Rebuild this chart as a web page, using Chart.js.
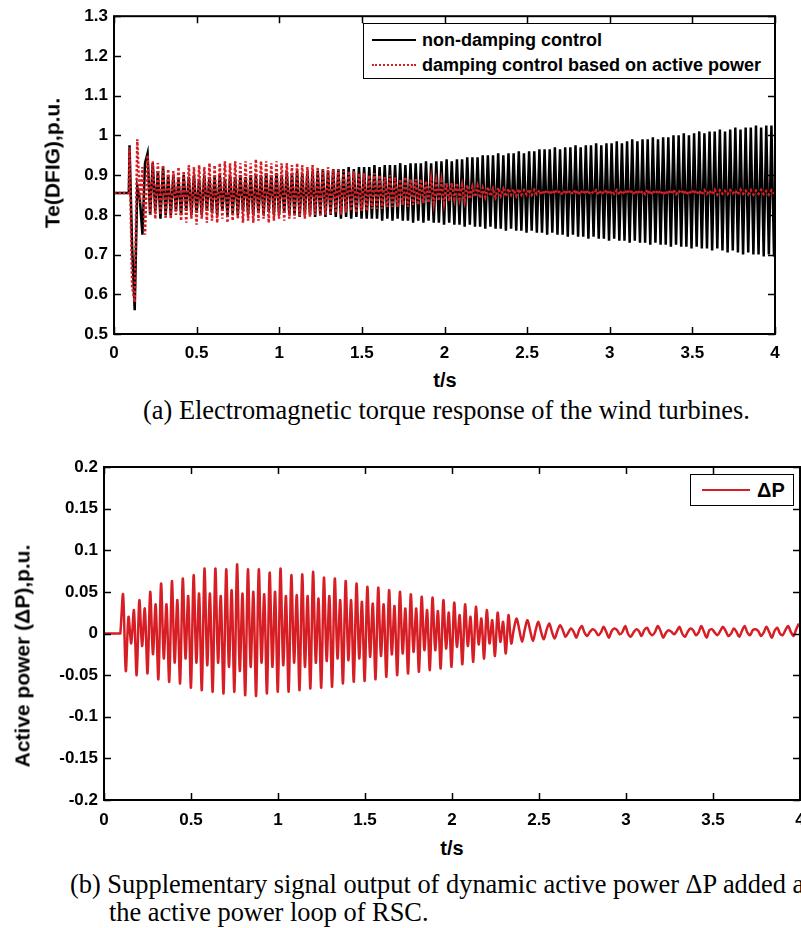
<!DOCTYPE html>
<html>
<head>
<meta charset="utf-8">
<script src="https://cdn.jsdelivr.net/npm/chart.js"></script>
<style>
  body { margin: 0; width: 801px; height: 928px; overflow: hidden; position: relative; background: #fff; }
  canvas { position: absolute; left: 0; }
  .sans { font-family: "Liberation Sans", Arial, sans-serif; font-weight: bold; color: #000; position: absolute; white-space: nowrap; }
  .serif { font-family: "Liberation Serif", "Times New Roman", serif; color: #000; position: absolute; white-space: nowrap; font-size: 26.4px; line-height: 1; }
  .ytitle { transform: translate(-50%, -50%) rotate(-90deg); font-size: 21px; line-height: 1; }
  .xtitle { transform: translate(-50%, -50%); font-size: 20px; line-height: 1; }
  .legend { position: absolute; border: 1.5px solid #000; background: #fff; box-sizing: border-box; }
  .legend .row { position: absolute; font-family: "Liberation Sans", Arial, sans-serif; font-weight: bold; white-space: nowrap; line-height: 1; }
  .legend .sample { position: absolute; height: 0; }
</style>
</head>
<body>
<canvas id="chartA" width="801" height="362" style="top:0"></canvas>
<canvas id="chartB" width="820" height="390" style="top:440px"></canvas>

<div class="sans ytitle" style="left:52px; top:163px;">Te(DFIG),p.u.</div>
<div class="sans xtitle" style="left:445px; top:380px;">t/s</div>
<div class="serif" style="left:143px; top:397px;">(a) Electromagnetic torque response of the wind turbines.</div>

<div class="legend" style="left:363px; top:23px; width:412px; height:56px;">
  <div class="sample" style="left:8px; top:15px; width:44px; border-top:2px solid #000;"></div>
  <div class="row" style="left:58px; top:7px; font-size:18px;">non-damping control</div>
  <div class="sample" style="left:8px; top:40px; width:44px; border-top:2px dotted #d71e25;"></div>
  <div class="row" style="left:58px; top:32px; font-size:18px;">damping control based on active power</div>
</div>

<div class="sans ytitle" style="left:22px; top:656px;">Active power (ΔP),p.u.</div>
<div class="sans xtitle" style="left:452px; top:848px;">t/s</div>
<div class="legend" style="left:690px; top:474px; width:104px; height:32px;">
  <div class="sample" style="left:11px; top:14px; width:48px; border-top:2px solid #d71e25;"></div>
  <div class="row" style="left:66px; top:5px; font-size:20px;">ΔP</div>
</div>
<div class="serif" style="left:70px; top:871px;">(b) Supplementary signal output of dynamic active power ΔP added at</div>
<div class="serif" style="left:109px; top:899px;">the active power loop of RSC.</div>

<script>
// sampling of the traces (one value every half cycle)
const faultTime = 0.09;
const sampleStart = 0.094;
const sampleStep = 0.0156;

// (a) tick values
const xTicksA = [0, 0.5, 1, 1.5, 2, 2.5, 3, 3.5, 4];
const yTicksA = [0.5, 0.6, 0.7, 0.8, 0.9, 1.0, 1.1, 1.2, 1.3];

// (b) tick values
const xTicksB = [0, 0.5, 1, 1.5, 2, 2.5, 3, 3.5, 4];
const yTicksB = [-0.2, -0.15, -0.1, -0.05, 0, 0.05, 0.1, 0.15, 0.2];

const seriesNamesA = ['non-damping control', 'damping control based on active power'];
const seriesNameB = 'ΔP';

const teBefore = 0.855;
const dpBefore = 0;

// Te without damping control
const teNoDamping = [
  0.975, 0.72, 0.56, 0.87, 0.84, 0.75, 0.93, 0.955, 0.80, 0.93, 0.81, 0.91, 0.79, 0.92, 0.80, 0.90,
  0.80, 0.90, 0.81, 0.89, 0.80, 0.90, 0.81, 0.895, 0.80, 0.90, 0.805, 0.89, 0.80, 0.90, 0.81, 0.895,
  0.805, 0.895, 0.80, 0.90, 0.81, 0.89, 0.80, 0.90, 0.805, 0.895, 0.80, 0.90, 0.81, 0.895, 0.80, 0.90,
  0.80, 0.90, 0.805, 0.90, 0.80, 0.905, 0.81, 0.90, 0.80, 0.905, 0.80, 0.90, 0.805, 0.91, 0.80, 0.905,
  0.80, 0.91, 0.795, 0.905, 0.80, 0.91, 0.80, 0.91, 0.795, 0.91, 0.80, 0.915, 0.795, 0.91, 0.80, 0.915,
  0.795, 0.915, 0.79, 0.915, 0.795, 0.92, 0.79, 0.915, 0.795, 0.92, 0.79, 0.92, 0.79, 0.92, 0.79, 0.925,
  0.79, 0.92, 0.785, 0.925, 0.79, 0.925, 0.785, 0.925, 0.79, 0.93, 0.785, 0.925, 0.785, 0.93, 0.78, 0.93,
  0.785, 0.93, 0.78, 0.935, 0.785, 0.93, 0.78, 0.935, 0.78, 0.935, 0.775, 0.94, 0.78, 0.935, 0.775, 0.94,
  0.775, 0.94, 0.77, 0.945, 0.775, 0.945, 0.77, 0.945, 0.77, 0.95, 0.765, 0.95, 0.77, 0.95, 0.765, 0.955,
  0.765, 0.95, 0.76, 0.955, 0.765, 0.955, 0.76, 0.96, 0.76, 0.955, 0.755, 0.96, 0.76, 0.96, 0.755, 0.965,
  0.755, 0.965, 0.75, 0.965, 0.755, 0.97, 0.75, 0.965, 0.75, 0.97, 0.745, 0.97, 0.75, 0.975, 0.745, 0.97,
  0.745, 0.975, 0.74, 0.975, 0.745, 0.98, 0.74, 0.975, 0.74, 0.98, 0.735, 0.98, 0.74, 0.985, 0.735, 0.98,
  0.735, 0.985, 0.73, 0.99, 0.735, 0.985, 0.73, 0.99, 0.73, 0.99, 0.725, 0.995, 0.73, 0.99, 0.725, 0.995,
  0.725, 0.995, 0.72, 1.0, 0.725, 1.0, 0.72, 1.005, 0.72, 1.0, 0.715, 1.005, 0.72, 1.01, 0.715, 1.005,
  0.715, 1.01, 0.71, 1.01, 0.715, 1.015, 0.71, 1.01, 0.705, 1.015, 0.71, 1.02, 0.705, 1.015, 0.70, 1.02,
  0.705, 1.02, 0.70, 1.025, 0.70, 1.02, 0.695, 1.025, 0.70, 1.025, 0.695
];

// Te with damping control based on active power
const teDamping = [
  0.97, 0.62, 0.58, 0.99, 0.83, 0.92, 0.75, 0.95, 0.80, 0.935, 0.79, 0.93, 0.80, 0.925, 0.79, 0.915,
  0.79, 0.91, 0.80, 0.92, 0.785, 0.91, 0.78, 0.925, 0.79, 0.92, 0.775, 0.925, 0.79, 0.92, 0.78, 0.93,
  0.785, 0.925, 0.78, 0.93, 0.79, 0.935, 0.78, 0.93, 0.785, 0.935, 0.79, 0.93, 0.78, 0.935, 0.785, 0.93,
  0.78, 0.94, 0.785, 0.935, 0.79, 0.935, 0.78, 0.93, 0.785, 0.935, 0.79, 0.93, 0.785, 0.93, 0.79, 0.925,
  0.79, 0.93, 0.795, 0.925, 0.79, 0.92, 0.795, 0.925, 0.80, 0.92, 0.795, 0.915, 0.80, 0.92, 0.80, 0.915,
  0.805, 0.915, 0.80, 0.91, 0.805, 0.91, 0.81, 0.91, 0.805, 0.905, 0.81, 0.905, 0.81, 0.90, 0.815, 0.905,
  0.815, 0.90, 0.815, 0.895, 0.82, 0.90, 0.82, 0.895, 0.82, 0.89, 0.825, 0.895, 0.82, 0.89, 0.825, 0.89,
  0.825, 0.89, 0.83, 0.885, 0.83, 0.89, 0.83, 0.885, 0.835, 0.885, 0.83, 0.88, 0.835, 0.88, 0.84, 0.88,
  0.84, 0.875, 0.835, 0.875, 0.84, 0.87, 0.845, 0.872, 0.842, 0.868, 0.845, 0.87, 0.847, 0.866, 0.845, 0.868,
  0.848, 0.865, 0.846, 0.866, 0.85, 0.864, 0.848, 0.865, 0.85, 0.862, 0.851, 0.864, 0.85, 0.863, 0.852, 0.862,
  0.851, 0.862, 0.853, 0.861, 0.852, 0.863, 0.854, 0.860, 0.851, 0.862, 0.853, 0.861, 0.852, 0.863, 0.851, 0.861,
  0.853, 0.862, 0.852, 0.860, 0.854, 0.862, 0.851, 0.861, 0.853, 0.863, 0.852, 0.860, 0.853, 0.862, 0.851, 0.861,
  0.852, 0.863, 0.854, 0.861, 0.851, 0.862, 0.853, 0.860, 0.852, 0.863, 0.851, 0.861, 0.853, 0.862, 0.852, 0.860,
  0.851, 0.862, 0.853, 0.863, 0.852, 0.861, 0.854, 0.862, 0.851, 0.860, 0.853, 0.863, 0.852, 0.861, 0.851, 0.862,
  0.853, 0.861, 0.852, 0.863, 0.851, 0.862, 0.853, 0.860, 0.852, 0.862, 0.854, 0.861, 0.851, 0.863, 0.853, 0.861,
  0.852, 0.862, 0.851, 0.861, 0.853, 0.863, 0.852, 0.860, 0.851, 0.862, 0.853
];

// supplementary signal dP
const deltaP = [
  0.0, 0.047, -0.045, 0.02, -0.012, 0.028, -0.05, 0.04, -0.015, 0.03, -0.048, 0.05, -0.025, 0.035, -0.055, 0.06,
  -0.03, 0.035, -0.058, 0.063, -0.035, 0.04, -0.06, 0.066, -0.03, 0.045, -0.065, 0.07, -0.035, 0.048, -0.068, 0.078,
  -0.038, 0.048, -0.07, 0.078, -0.035, 0.045, -0.072, 0.077, -0.04, 0.052, -0.07, 0.083, -0.045, 0.048, -0.074, 0.077,
  -0.04, 0.05, -0.075, 0.077, -0.035, 0.047, -0.072, 0.073, -0.04, 0.05, -0.07, 0.078, -0.038, 0.045, -0.07, 0.07,
  -0.035, 0.046, -0.068, 0.071, -0.04, 0.045, -0.066, 0.074, -0.035, 0.042, -0.065, 0.067, -0.033, 0.045, -0.064, 0.066,
  -0.03, 0.04, -0.06, 0.063, -0.032, 0.04, -0.058, 0.06, -0.03, 0.038, -0.057, 0.056, -0.028, 0.036, -0.055, 0.055,
  -0.027, 0.035, -0.052, 0.052, -0.025, 0.033, -0.05, 0.05, -0.024, 0.03, -0.048, 0.047, -0.022, 0.03, -0.046, 0.044,
  -0.02, 0.028, -0.044, 0.043, -0.02, 0.027, -0.042, 0.04, -0.018, 0.025, -0.04, 0.037, -0.016, 0.022, -0.037, 0.035,
  -0.015, 0.02, -0.034, 0.032, -0.013, 0.018, -0.03, 0.028, -0.012, 0.016, -0.027, 0.025, -0.01, 0.014, -0.024, 0.022,
  -0.012, 0.006, 0.018, 0.004, -0.01, 0.005, 0.016, 0.003, -0.009, 0.004, 0.014, 0.002, -0.007, 0.004, 0.012, 0.002,
  -0.006, 0.003, 0.010, 0.004, -0.004, 0.001, 0.006, 0.002, -0.005, 0.004, 0.009, 0.001, -0.003, 0.002, 0.005, 0.003,
  -0.002, 0.001, 0.008, 0.002, -0.005, 0.003, 0.006, 0.004, -0.001, 0.002, 0.009, 0.0, -0.004, 0.001, 0.005, 0.003,
  -0.003, 0.004, 0.007, 0.001, -0.002, 0.002, 0.009, 0.003, -0.005, 0.001, 0.004, 0.002, -0.001, 0.003, 0.008, 0.0,
  -0.004, 0.002, 0.006, 0.004, -0.002, 0.001, 0.009, 0.002, -0.005, 0.004, 0.005, 0.001, -0.002, 0.003, 0.008, 0.003,
  -0.003, 0.0, 0.006, 0.002, -0.004, 0.003, 0.009, 0.001, -0.002, 0.004, 0.005, 0.003, -0.003, 0.001, 0.008, 0.002,
  -0.005, 0.003, 0.007, 0.0, -0.002, 0.004, 0.009, 0.002, -0.003, 0.005, 0.012
];

const tickFont = { family: '"Liberation Sans", Arial, sans-serif', size: 17, weight: 'bold' };

function toPoints(before, values) {
  const pts = [{ x: 0, y: before }, { x: faultTime, y: before }];
  values.forEach((v, i) => {
    pts.push({ x: +(sampleStart + i * sampleStep).toFixed(4), y: v });
  });
  return pts;
}

function tickLabel(v) {
  return String(+Number(v).toFixed(3));
}

// MATLAB-like box: frame plus inward ticks on all four sides
const matlabFrame = {
  id: 'matlabFrame',
  afterDraw(chart) {
    const { ctx, chartArea: a, scales } = chart;
    const x = scales.x, y = scales.y;
    ctx.save();
    ctx.strokeStyle = '#000';
    ctx.lineWidth = 1.5;
    ctx.beginPath();
    x.ticks.forEach(t => {
      const px = Math.round(x.getPixelForValue(t.value)) + 0.5;
      ctx.moveTo(px, a.bottom); ctx.lineTo(px, a.bottom - 7);
      ctx.moveTo(px, a.top); ctx.lineTo(px, a.top + 7);
    });
    y.ticks.forEach(t => {
      const py = Math.round(y.getPixelForValue(t.value)) + 0.5;
      ctx.moveTo(a.left, py); ctx.lineTo(a.left + 7, py);
      ctx.moveTo(a.right, py); ctx.lineTo(a.right - 7, py);
    });
    ctx.stroke();
    ctx.lineWidth = 2;
    ctx.strokeRect(a.left, a.top, a.right - a.left, a.bottom - a.top);
    ctx.restore();
  }
};

function makeScales(xTicks, yTicks, yWidth, xHeight, xPad, yPad) {
  return {
    x: {
      type: 'linear',
      min: xTicks[0],
      max: xTicks[xTicks.length - 1],
      grid: { display: false, drawTicks: false },
      border: { display: false },
      afterBuildTicks: s => { s.ticks = xTicks.map(v => ({ value: v })); },
      afterFit: s => { s.height = xHeight; },
      ticks: { color: '#000', font: tickFont, padding: xPad, maxRotation: 0, autoSkip: false, callback: tickLabel }
    },
    y: {
      type: 'linear',
      min: yTicks[0],
      max: yTicks[yTicks.length - 1],
      grid: { display: false, drawTicks: false },
      border: { display: false },
      afterBuildTicks: s => { s.ticks = yTicks.map(v => ({ value: v })); },
      afterFit: s => { s.width = yWidth; },
      ticks: { color: '#000', font: tickFont, padding: yPad, autoSkip: false, callback: tickLabel }
    }
  };
}

const commonOptions = {
  responsive: false,
  animation: false,
  devicePixelRatio: 1,
  plugins: { legend: { display: false }, tooltip: { enabled: false } },
  elements: { point: { radius: 0 }, line: { tension: 0 } }
};

new Chart(document.getElementById('chartA').getContext('2d'), {
  type: 'line',
  data: {
    datasets: [
      {
        label: seriesNamesA[0],
        data: toPoints(teBefore, teNoDamping),
        borderColor: '#000',
        borderWidth: 2.5,
        order: 1
      },
      {
        label: seriesNamesA[1],
        data: toPoints(teBefore, teDamping),
        borderColor: '#d71e25',
        borderWidth: 2.5,
        borderDash: [2.5, 2],
        order: 0
      }
    ]
  },
  options: Object.assign({}, commonOptions, {
    layout: { padding: { top: 16, right: 26, left: 0, bottom: 0 } },
    scales: makeScales(xTicksA, yTicksA, 114, 28, 9, 6)
  }),
  plugins: [matlabFrame]
});

new Chart(document.getElementById('chartB').getContext('2d'), {
  type: 'line',
  data: {
    datasets: [
      {
        label: seriesNameB,
        data: toPoints(dpBefore, deltaP),
        borderColor: '#d71e25',
        borderWidth: 2.5,
        tension: 0.3
      }
    ]
  },
  options: Object.assign({}, commonOptions, {
    layout: { padding: { top: 27, right: 20, left: 0, bottom: 0 } },
    scales: makeScales(xTicksB, yTicksB, 104, 30, 10, 6)
  }),
  plugins: [matlabFrame]
});
</script>
</body>
</html>
